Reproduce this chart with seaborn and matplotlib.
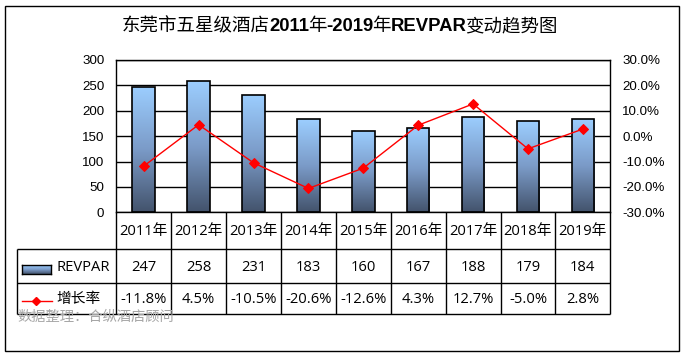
import numpy as np
import matplotlib
matplotlib.use('Agg')
import matplotlib.pyplot as plt
import seaborn as sns
from matplotlib.colors import LinearSegmentedColormap
from matplotlib.patches import Rectangle

plt.rcParams['font.family'] = ['Liberation Sans', 'Noto Sans CJK SC', 'DejaVu Sans']

# data
years = ['2011年', '2012年', '2013年', '2014年', '2015年', '2016年', '2017年', '2018年', '2019年']
revpar = [247, 258, 231, 183, 160, 167, 188, 179, 184]
growth = [-11.8, 4.5, -10.5, -20.6, -12.6, 4.3, 12.7, -5.0, 2.8]

W, H = 684, 356
fig = plt.figure(figsize=(W / 100, H / 100), dpi=100)


def box(l, t, r, b):
    # pixel box (from top-left) -> figure fraction rect
    return [l / W, 1 - b / H, (r - l) / W, (b - t) / H]


plot_l, plot_r, plot_t, plot_b = 116.3, 610.3, 60.0, 212.3
row_edges = [212.3, 249.3, 283.3, 314.0]
legend_l = 17.3
col_w = (plot_r - plot_l) / 9
table_font = ['Open Sans', 'Noto Sans CJK SC']
cmap = LinearSegmentedColormap.from_list('bar', ['#43536C', '#7B9BC8', '#9CCEFF'])
grad = np.linspace(0, 1, 256).reshape(-1, 1)

# outer frame
fig.add_artist(Rectangle((5 / W, 1 - 351 / H), 674 / W, 345 / H, transform=fig.transFigure,
                         fill=False, edgecolor='black', lw=1))

ax = fig.add_axes(box(plot_l, plot_t, plot_r, plot_b))
sns.barplot(x=years, y=revpar, ax=ax, width=0.41, color='#9CCEFF', edgecolor='black',
            linewidth=1.2, zorder=3)
for p in ax.patches:
    x0, y0 = p.get_x(), p.get_y()
    w, h = p.get_width(), p.get_height()
    im = ax.imshow(grad, extent=[x0, x0 + w, y0, y0 + h], origin='lower', aspect='auto',
                   cmap=cmap, zorder=2.5)
    im.set_clip_path(p)
    p.set_facecolor('none')
ax.set_xlim(-0.5, 8.5)
ax.set_ylim(0, 300)
ax.set_yticks(range(0, 301, 50))
ax.set_axisbelow(True)
ax.yaxis.grid(True, color='black', lw=1)
ax.tick_params(axis='x', labelbottom=False, length=0)
ax.tick_params(axis='y', length=0, pad=8.6, labelsize=9.6)
ax.set_xlabel('')
ax.set_ylabel('')
for s in ax.spines.values():
    s.set_color('black')
    s.set_linewidth(1)

ax2 = ax.twinx()
sns.pointplot(x=years, y=growth, ax=ax2, color='red', markers='D', markersize=5,
              linewidth=1, errorbar=None)
ax2.set_xlim(-0.5, 8.5)
ax2.set_ylim(-30, 30)
ax2.set_yticks(np.arange(-30, 31, 10))
ax2.set_yticklabels([f'{v:.1f}%' for v in np.arange(-30, 31, 10)])
ax2.tick_params(axis='y', length=0, pad=8.6, labelsize=9.6)
ax2.tick_params(axis='x', labelbottom=False, length=0)
ax2.set_xlabel('')
ax2.set_ylabel('')
for s in ax2.spines.values():
    s.set_visible(False)

# data table below the chart
tax = fig.add_axes(box(plot_l, row_edges[0], plot_r, row_edges[-1]))
tax.set_xlim(-0.5, 8.5)
tax.set_ylim(row_edges[-1], row_edges[0])
tax.axis('off')


def px2x(px):
    return -0.5 + (px - plot_l) / col_w


lx = px2x(legend_l)
tax.vlines(np.arange(-0.5, 9.5, 1), row_edges[0], row_edges[-1], color='black', lw=1, clip_on=False)
tax.vlines(lx, row_edges[1], row_edges[-1], color='black', lw=1, clip_on=False)
tax.hlines(row_edges[1:], lx, 8.5, color='black', lw=1, clip_on=False)

mids = [(row_edges[i] + row_edges[i + 1]) / 2 + 1 for i in range(3)]
for i in range(len(years)):
    tax.text(i, mids[0], years[i], ha='center', va='center', fontsize=10.6, family=table_font)
    tax.text(i, mids[1], str(revpar[i]), ha='center', va='center', fontsize=10.6, family=table_font)
    tax.text(i, mids[2], f'{growth[i]:.1f}%', ha='center', va='center', fontsize=10.6,
             family=table_font)

# legend keys
lax = fig.add_axes(box(21.7, 265, 50.7, 274))
lax.imshow(grad, extent=[0, 1, 0, 1], origin='lower', aspect='auto', cmap=cmap)
lax.set_xticks([])
lax.set_yticks([])
for s in lax.spines.values():
    s.set_linewidth(1)
tax.text(px2x(56.7), mids[1], 'REVPAR', ha='left', va='center', fontsize=10.6, family=table_font,
         clip_on=False)
tax.plot([px2x(21.7), px2x(51.7)], [301, 301], color='red', lw=1, clip_on=False)
tax.plot([px2x(36)], [301], color='red', marker='D', markersize=4.5, clip_on=False)
tax.text(px2x(56), mids[2], '增长率', ha='left', va='center', fontsize=10.6, family=table_font,
         clip_on=False)

# source note
fig.text(17.3 / W, 1 - 317 / H, '数据整理：合纵酒店顾问', ha='left', va='center', fontsize=10.3,
         color='#A6A6A6', family=['Noto Sans CJK SC'], zorder=10)

# title with mixed fonts
segments = [('东莞市五星级酒店', False), ('2011', True), ('年', False), ('-2019', True),
            ('年', False), ('REVPAR', True), ('变动趋势图', False)]
prev = None
prev_latin = False
base_y = H - 31
for txt, latin in segments:
    kw = dict(family='Liberation Sans', weight='bold') if latin else dict(family='Noto Sans CJK SC')
    if prev is None:
        prev = ax.annotate(txt, xy=(121.7, base_y), xycoords='figure pixels', ha='left',
                           va='baseline', fontsize=13.3, annotation_clip=False, **kw)
    else:
        shift = -1.5 if prev_latin else 0
        prev = ax.annotate(txt, xy=(1, base_y), xycoords=(prev, 'figure pixels'),
                           xytext=(shift, 0), textcoords='offset pixels', ha='left',
                           va='baseline', fontsize=13.3, annotation_clip=False, **kw)
    prev_latin = latin

plt.savefig('out.png', dpi=100)
